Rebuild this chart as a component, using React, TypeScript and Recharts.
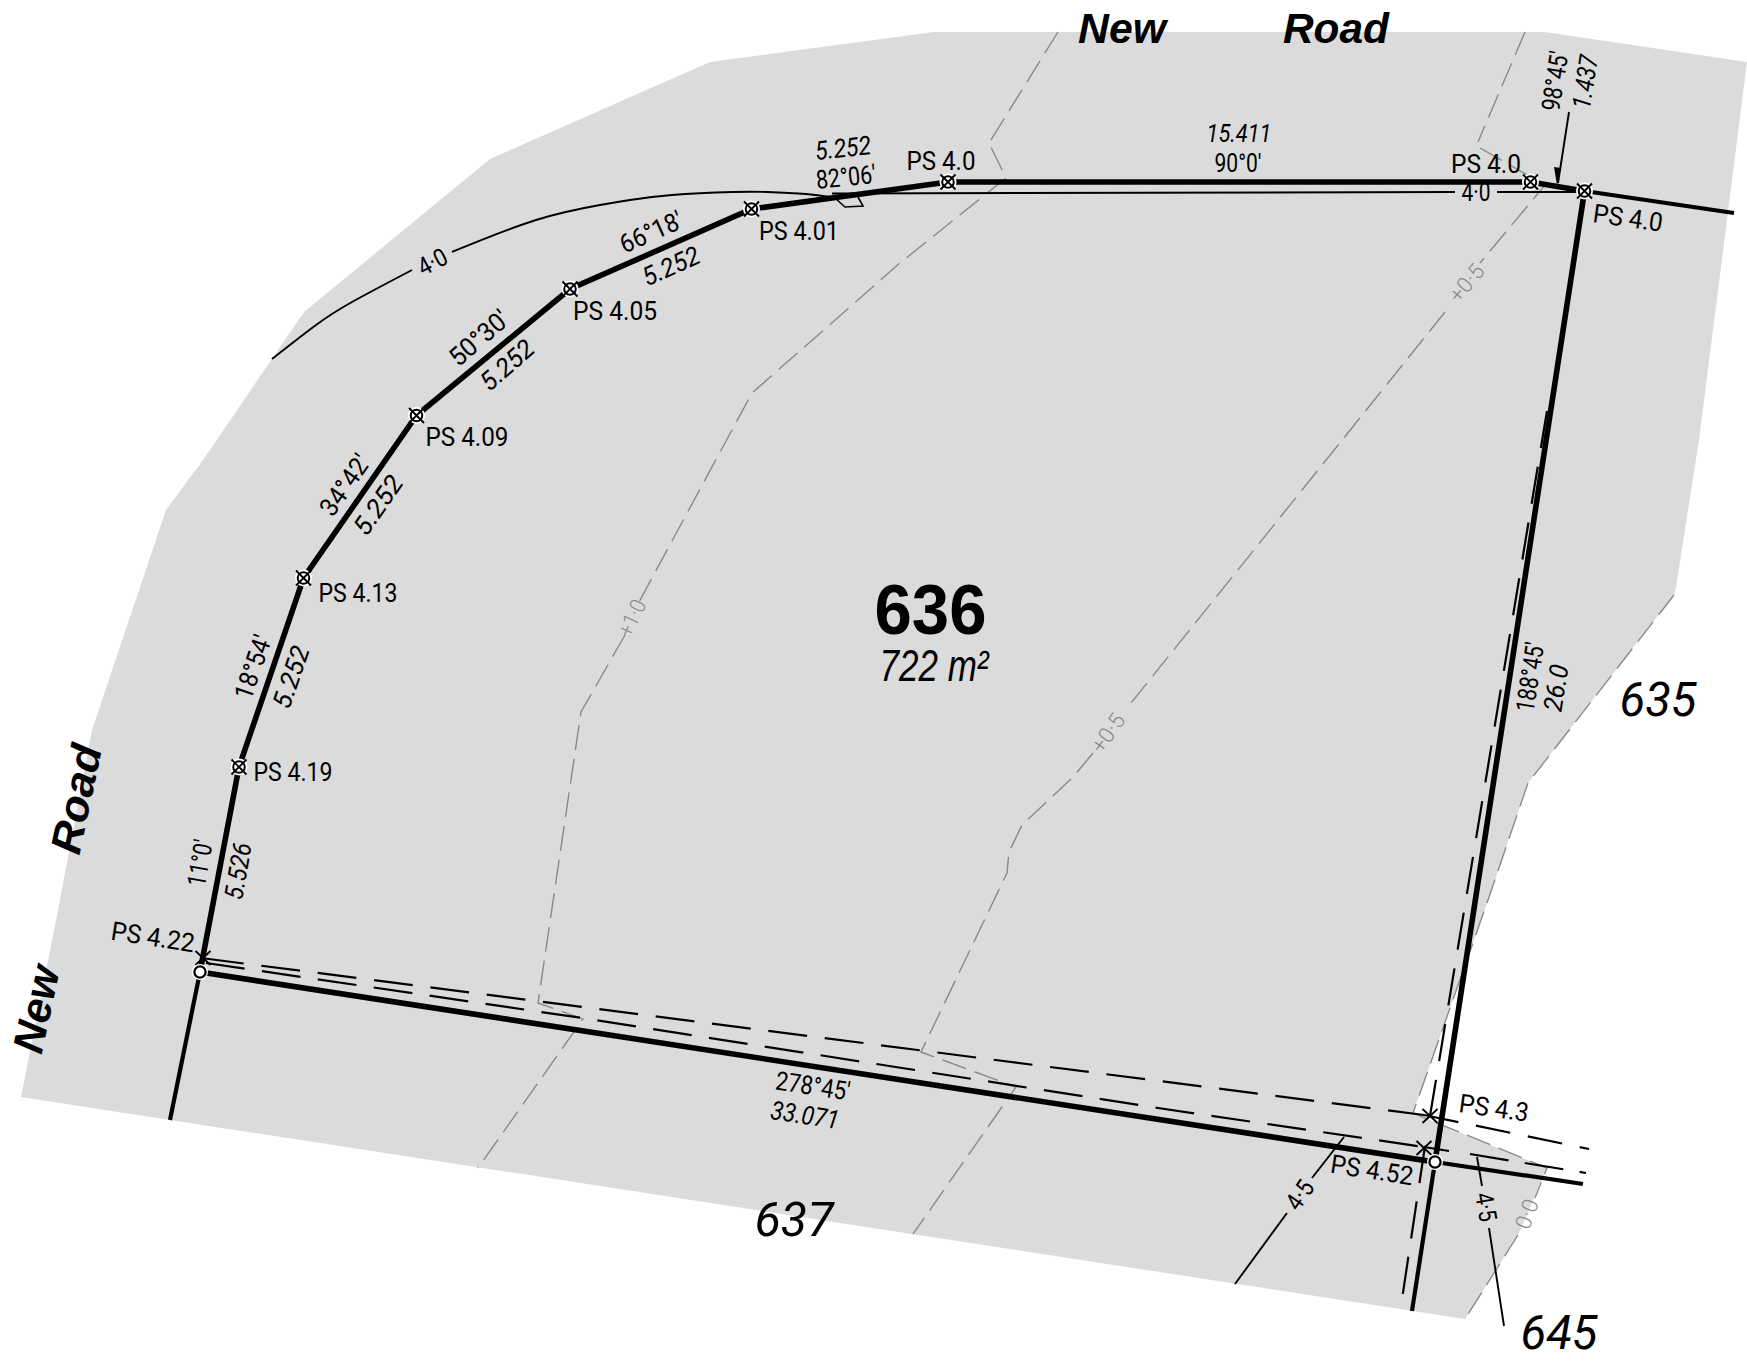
import { Scatter, ScatterChart, XAxis, YAxis } from 'recharts';

type Pt = [number, number];
type Lbl = [string, number, number, number, number, string]; // text, x, y, angle, length, kind

const W = 1747;
const H = 1361;

// land parcel outline
const parcel: Pt[] = [
  [21, 1097], [60, 900], [92, 730], [166, 510], [203, 460], [272, 359], [304, 312], [490, 159], [710, 62], [934, 32],
  [1545, 32], [1747, 62], [1699, 440], [1676, 587], [1674, 595], [1528, 783], [1488, 900], [1468, 957], [1413, 1113],
  [1547, 1168], [1518, 1235], [1465, 1319],
];

// boundary
const frontage: Pt[] = [
  [200, 972], [239, 767], [303.5, 578], [416.5, 415.5], [570, 289], [751.5, 209], [948, 182], [1530.5, 182], [1584.5, 191],
  [1435, 1162], [200, 972],
];
const extensions: Pt[][] = [
  [[200, 972], [170, 1120]],
  [[1584.5, 191], [1734, 213]],
  [[1435, 1162], [1412, 1311]],
  [[1435, 1162], [1583, 1184]],
];

// easements
const dashedUpper: Pt[] = [[205, 958.5], [1424, 1115]];
const dashedUpperEnd: Pt[] = [[1424, 1115], [1589, 1149]];
const dashedLower: Pt[] = [[206, 963], [582, 1018], [1158, 1108], [1424, 1147]];
const dashedLowerJoin: Pt[] = [[1424, 1147], [1449, 1151]];
const dashedLowerEnd: Pt[] = [[1470, 1154], [1586, 1173]];
const dashedSide: Pt[] = [[1547, 411], [1430, 1116]];
const dashedSideEnd: Pt[] = [[1425, 1146], [1402.5, 1296]];

// thin black work
const road40a: Pt[] = [[272, 359], [316, 325], [352, 302], [412, 270]];
const road40b: Pt[] = [
  [452, 252], [536, 220], [600, 205], [630, 200], [672, 195], [733, 192], [767, 192], [806, 194], [830, 197],
];
const road40c: Pt[] = [[832, 193.5], [1455, 192]];
const road40d: Pt[] = [[1497, 192], [1584, 192]];
const leader45a: Pt[] = [[1344, 1137], [1312, 1178]];
const leader45b: Pt[] = [[1287, 1213], [1235, 1284]];
const leader45c: Pt[] = [[1477, 1157], [1482, 1186]];
const leader45d: Pt[] = [[1489, 1228], [1504, 1326]];
const arrowLeader: Pt[] = [[1569, 112], [1558, 183]];
const pad: Pt[] = [[835, 198], [845, 207], [863, 206], [858, 197]];
const arrowHead: Pt[] = [[1557, 185], [1554, 167], [1561, 168]];

// contours
const contour10: Pt[][] = [
  [[1058, 32], [989, 143], [1006, 178], [900, 263], [752, 393], [639, 602]],
  [[625, 635], [581, 712], [538, 1003], [583, 1019], [478, 1168]],
];
const contour05: Pt[][] = [
  [[1525, 32], [1478, 142]],
  [[1480, 148], [1545, 185], [1480, 263]],
  [[1445, 312], [1131, 703]],
  [[1093, 753], [1073, 777], [1022, 825], [1009, 852], [1007, 873], [921, 1052], [1016, 1087], [913, 1234]],
];
const contour00: Pt[][] = [
  [[1674, 595], [1528, 783], [1488, 900], [1468, 957], [1413, 1113], [1547, 1168], [1535, 1198]],
  [[1518, 1235], [1465, 1319]],
];

// points
const pegs: Pt[] = [
  [239, 767], [303.5, 578], [416.5, 415.5], [570, 289], [751.5, 209], [948, 182], [1530.5, 182], [1584.5, 191],
];
const nodes: Pt[] = [[200, 972], [1435, 1162]];
const crosses: Pt[] = [[203, 958], [1430, 1116], [1424, 1148]];

const labels: Lbl[] = [
  ['PS 4.09', 467, 437, 0, 83, 'ps'],
  ['PS 4.05', 615, 311, 0, 84, 'ps'],
  ['PS 4.01', 799, 231, 0, 80, 'ps'],
  ['PS 4.0', 941, 161, 0, 69, 'ps'],
  ['PS 4.0', 1486, 164, 0, 70, 'ps'],
  ['PS 4.0', 1628, 218, 8, 70, 'ps'],
  ['PS 4.13', 358, 593, 0, 79, 'ps'],
  ['PS 4.19', 293, 772, 0, 79, 'ps'],
  ['PS 4.22', 153, 937, 8.75, 84, 'ps'],
  ['PS 4.3', 1494, 1108, 8, 70, 'ps'],
  ['PS 4.52', 1372, 1170, 8.75, 83, 'ps'],
  ["50°30'", 479, 338, -41, 70, 'ps'],
  ['5.252', 507, 365, -41, 62, 'len'],
  ["66°18'", 651, 232, -24, 66, 'ps'],
  ['5.252', 671, 266, -24, 60, 'len'],
  ['5.252', 843, 148, -6, 56, 'len'],
  ["82°06'", 846, 177, -6, 60, 'ps'],
  ["34°42'", 345, 485, -55, 68, 'ps'],
  ['5.252', 378, 505, -55, 66, 'len'],
  ["18°54'", 253, 667, -71, 66, 'ps'],
  ['5.252', 291, 677, -71, 64, 'len'],
  ["11°0'", 200, 863, -80, 47, 'ps'],
  ['5.526', 238, 871, -80, 57, 'len'],
  ['15.411', 1239, 133, 0, 65, 'len'],
  ["90°0'", 1238, 163, 0, 47, 'ps'],
  ["98°45'", 1555, 81, -81, 60, 'ps'],
  ['1.437', 1585, 82, -81, 54, 'len'],
  ["188°45'", 1530, 677, -81, 70, 'ps'],
  ['26.0', 1556, 688, -81, 47, 'len'],
  ["278°45'", 813, 1086, 8.75, 75, 'ps'],
  ['33.071', 805, 1115, 8.75, 69, 'len'],
  ['4·0', 432.5, 262, -28, 30, 'rl'],
  ['4·0', 1476, 192, 0, 29, 'rl'],
  ['4·5', 1300, 1195, -55, 30, 'rl'],
  ['4·5', 1486, 1207, 80, 29, 'rl'],
  ['+1·0', 632, 618, -65, 38, 'contour'],
  ['+0·5', 1108, 733, -55, 42, 'contour'],
  ['+0·5', 1466.5, 283, -50, 42, 'contour'],
  ['0·0', 1527, 1214, -70, 30, 'contour'],
  ['636', 930.5, 609, 0, 112, 'lot'],
  ['722 m²', 934, 665, 0, 109, 'area'],
  ['635', 1658, 699, 0, 77, 'nbr'],
  ['637', 794, 1219, 0, 79, 'nbr'],
  ['645', 1559, 1332, 0, 77, 'nbr'],
  ['New', 1122, 28, 0, 88, 'road'],
  ['Road', 1336, 28, 0, 106, 'road'],
  ['Road', 76, 799, -78, 110, 'road'],
  ['New', 36, 1009, -78, 88, 'road'],
];

const cad = 'Roboto, sans-serif';
const arial = '"Liberation Sans", sans-serif';
const kinds: Record<string, any> = {
  ps: { fontFamily: cad, fontSize: 26, fontWeight: 400, fill: '#000' },
  len: { fontFamily: cad, fontSize: 26, fontWeight: 400, fontStyle: 'italic', fill: '#000' },
  rl: { fontFamily: cad, fontSize: 25, fontWeight: 400, fill: '#000' },
  contour: { fontFamily: cad, fontSize: 22, fontWeight: 300, fill: '#8a8a8a' },
  lot: { fontFamily: arial, fontSize: 71, fontWeight: 700, fill: '#000' },
  area: { fontFamily: arial, fontSize: 44, fontStyle: 'italic', fill: '#000' },
  nbr: { fontFamily: cad, fontSize: 48, fontWeight: 400, fontStyle: 'italic', fill: '#000' },
  road: { fontFamily: arial, fontSize: 43, fontWeight: 700, fontStyle: 'italic', fill: '#000' },
};

const xy = (pts: Pt[]) => pts.map(([x, y]) => ({ x, y }));
const noDot = () => null;

const toPolygon = (fill: string) => (props: any) => (
  <polygon points={props.points.map((p: any) => `${p.x},${p.y}`).join(' ')} fill={fill} />
);

const line = (key: string, pts: Pt[], stroke: string, strokeWidth: number, strokeDasharray?: string) => (
  <Scatter
    key={key}
    data={xy(pts)}
    shape={noDot}
    line={{ stroke, strokeWidth, strokeDasharray }}
    isAnimationActive={false}
  />
);

const arc = (key: string, pts: Pt[]) => (
  <Scatter
    key={key}
    data={xy(pts)}
    shape={noDot}
    line={{ stroke: '#000', strokeWidth: 1.9 }}
    lineJointType="natural"
    isAnimationActive={false}
  />
);

const PegMark = ({ cx, cy }: any) => (
  <g>
    <circle cx={cx} cy={cy} r={8.5} fill="#fff" />
    <circle cx={cx} cy={cy} r={5.8} fill="#fff" stroke="#000" strokeWidth={2} />
    <path
      d={`M${cx - 7.5} ${cy - 7.5}L${cx + 7.5} ${cy + 7.5}M${cx + 7.5} ${cy - 7.5}L${cx - 7.5} ${cy + 7.5}`}
      stroke="#000"
      strokeWidth={1.8}
    />
  </g>
);

const NodeMark = ({ cx, cy }: any) => (
  <g>
    <circle cx={cx} cy={cy} r={8} fill="#fff" />
    <circle cx={cx} cy={cy} r={5.6} fill="#fff" stroke="#000" strokeWidth={2.3} />
  </g>
);

const CrossMark = ({ cx, cy }: any) => (
  <path
    d={`M${cx - 7.5} ${cy - 7}L${cx + 7.5} ${cy + 7}M${cx - 7.5} ${cy + 7}L${cx + 7.5} ${cy - 7}`}
    stroke="#000"
    strokeWidth={1.8}
    fill="none"
  />
);

const LabelMark = ({ cx, cy, payload }: any) => (
  <text
    x={cx}
    y={cy}
    textAnchor="middle"
    dominantBaseline="central"
    textLength={payload.length}
    lengthAdjust="spacingAndGlyphs"
    transform={`rotate(${payload.angle} ${cx} ${cy})`}
    {...kinds[payload.kind]}
  >
    {payload.text}
  </text>
);

const labelData = labels.map(([text, x, y, angle, length, kind]) => ({ text, x, y, angle, length, kind }));

export default function App() {
  return (
    <div style={{ position: 'absolute', left: 0, top: 0, width: W, height: H, background: '#fff' }}>
      <ScatterChart width={W} height={H} margin={{ top: 0, right: 0, bottom: 0, left: 0 }}>
        <XAxis type="number" dataKey="x" domain={[0, W]} hide />
        <YAxis type="number" dataKey="y" domain={[0, H]} reversed hide />

        <Scatter data={xy(parcel)} shape={noDot} line={toPolygon('#dbdbdb')} isAnimationActive={false} />

        {contour10.map((c, i) => line(`c10-${i}`, c, '#8a8a8a', 1.4, '25 9'))}
        {contour05.map((c, i) => line(`c05-${i}`, c, '#8a8a8a', 1.4, '25 9'))}
        {contour00.map((c, i) => line(`c00-${i}`, c, '#8a8a8a', 1.4, '25 9'))}

        {line('upper', dashedUpper, '#000', 2.2, '39 17.8')}
        {line('upper-end', dashedUpperEnd, '#000', 2.2, '35 18')}
        {line('lower', dashedLower, '#000', 2.2, '39 17.5')}
        {line('lower-join', dashedLowerJoin, '#000', 2.2)}
        {line('lower-end', dashedLowerEnd, '#000', 2.2, '39 16.5')}
        {line('side', dashedSide, '#000', 2.2, '37.5 19')}
        {line('side-end', dashedSideEnd, '#000', 2.2, '37.5 18.5')}

        {arc('road-a', road40a)}
        {arc('road-b', road40b)}
        {[road40c, road40d, leader45a, leader45b, leader45c, leader45d, arrowLeader].map((c, i) =>
          line(`thin-${i}`, c, '#000', 1.9),
        )}
        <Scatter data={xy(pad)} shape={noDot} line={{ stroke: '#000', strokeWidth: 1.6 }} isAnimationActive={false} />
        <Scatter data={xy(arrowHead)} shape={noDot} line={toPolygon('#000')} isAnimationActive={false} />

        {extensions.map((c, i) => line(`ext-${i}`, c, '#000', 4.2))}
        {line('frontage', frontage, '#000', 5.6)}

        <Scatter data={xy(crosses)} shape={CrossMark} isAnimationActive={false} />
        <Scatter data={xy(pegs)} shape={PegMark} isAnimationActive={false} />
        <Scatter data={xy(nodes)} shape={NodeMark} isAnimationActive={false} />
        <Scatter data={labelData} shape={LabelMark} isAnimationActive={false} />
      </ScatterChart>
    </div>
  );
}
